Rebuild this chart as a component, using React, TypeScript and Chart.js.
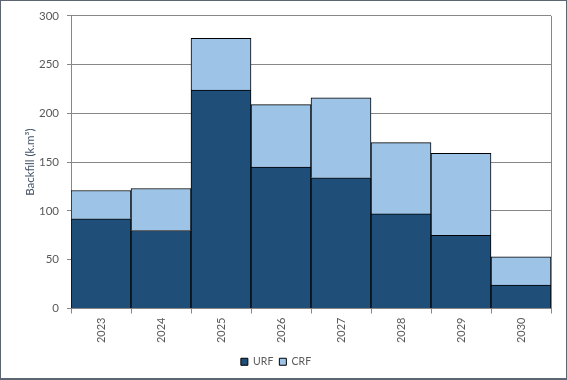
import React, { useEffect, useRef } from "react";
import { Chart, registerables } from "chart.js";

Chart.register(...registerables);

const years = ["2023", "2024", "2025", "2026", "2027", "2028", "2029", "2030"];
const urf = [92, 80, 224, 145, 134, 97, 75, 24];
const crf = [29, 43, 53, 64, 82, 73, 84, 29];
const yTicks = [0, 50, 100, 150, 200, 250, 300];

const FONT = "Lato, 'Open Sans', sans-serif";
const TXT = "#595959";
const GRID = "#878787";

const frame = {
  id: "frame",
  afterDatasetsDraw(chart: any) {
    const { ctx, chartArea } = chart;
    ctx.save();
    ctx.strokeStyle = GRID;
    ctx.lineWidth = 1;
    ctx.beginPath();
    ctx.moveTo(Math.round(chartArea.right) + 0.5, chartArea.top);
    ctx.lineTo(Math.round(chartArea.right) + 0.5, chartArea.bottom);
    ctx.stroke();
    ctx.restore();
  },
};

export default function App() {
  const ref = useRef<HTMLCanvasElement>(null);
  useEffect(() => {
    document.body.style.margin = "0";
    const chart = new Chart(ref.current!, {
      type: "bar",
      data: {
        labels: years,
        datasets: [
          {
            label: "URF",
            data: urf,
            backgroundColor: "#1F4E79",
            borderColor: "#000000",
            borderWidth: 1,
          },
          {
            label: "CRF",
            data: crf,
            backgroundColor: "#9DC3E6",
            borderColor: "#000000",
            borderWidth: 1,
          },
        ],
      },
      options: {
        animation: false,
        responsive: false,
        maintainAspectRatio: false,
        layout: { padding: { top: 14, right: 15, left: 0, bottom: 1 } },
        datasets: { bar: { barPercentage: 1, categoryPercentage: 1 } },
        plugins: {
          tooltip: { enabled: false },
          legend: {
            position: "bottom",
            labels: {
              boxWidth: 7,
              boxHeight: 7,
              color: TXT,
              font: { family: FONT, size: 10.5 },
              padding: 6,
              useBorderRadius: false,
            },
          },
        },
        scales: {
          x: {
            stacked: true,
            afterFit: (s: any) => {
              s.height = 42;
            },
            grid: {
              offset: true,
              drawOnChartArea: false,
              drawTicks: true,
              tickLength: 5,
              color: GRID,
            },
            border: { color: GRID },
            ticks: {
              color: TXT,
              font: { family: FONT, size: 11 },
              maxRotation: 90,
              minRotation: 90,
              padding: 4,
            },
          },
          y: {
            stacked: true,
            min: 0,
            max: 300,
            afterFit: (s: any) => {
              s.width = 70;
            },
            afterBuildTicks: (s: any) => {
              s.ticks = yTicks.map((v) => ({ value: v }));
            },
            grid: { color: GRID, drawTicks: true, tickLength: 4 },
            border: { color: GRID },
            ticks: {
              color: TXT,
              font: { family: FONT, size: 11.5 },
              padding: 8,
            },
            title: {
              display: true,
              text: "Backfill (k.m³)",
              color: "#44546A",
              font: { family: FONT, size: 11.5 },
              padding: { top: 22, bottom: 0 },
            },
          },
        },
      },
      plugins: [frame],
    });
    return () => chart.destroy();
  }, []);
  return (
    <div
      style={{
        position: "absolute",
        left: 0,
        top: 0,
        width: 567,
        height: 380,
        boxSizing: "border-box",
        border: "1px solid #5B6670",
        borderBottomWidth: 2,
        background: "#fff",
      }}
    >
      <canvas ref={ref} width={565} height={377} style={{ display: "block" }} />
    </div>
  );
}
